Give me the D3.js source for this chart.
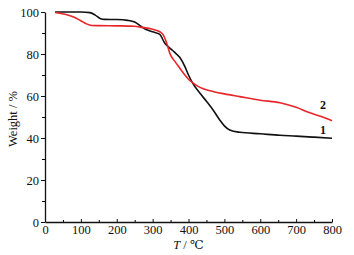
<!DOCTYPE html>
<html>
<head>
<meta charset="utf-8">
<script src="https://cdn.jsdelivr.net/npm/d3@7"></script>
<style>
  body { margin: 0; background: #fff; }
  svg text { font-family: "Liberation Serif", "DejaVu Serif", serif; }
</style>
</head>
<body>
<svg id="chart" width="354" height="255"></svg>
<script>
  // sample 1 (black) - TG curve
  var temp1 = [28, 100, 125, 140, 155, 165, 200, 230, 250, 265, 280, 300, 320, 334, 348, 360, 376, 390, 400, 412, 432, 450, 470, 487, 500, 515, 543, 600, 655, 700, 750, 800];
  var weight1 = [100, 100, 99.7, 98.5, 96.8, 96.5, 96.4, 96, 95.2, 93.5, 91.8, 90.6, 89.3, 85.1, 82.8, 81, 78.3, 74, 70, 66, 61.3, 57.5, 53, 48.6, 45.8, 43.8, 42.7, 42, 41.3, 40.9, 40.4, 39.9];

  // sample 2 (red)
  var temp2 = [28, 56, 80, 100, 115, 130, 150, 200, 250, 265, 300, 320, 330, 340, 348, 362, 376, 390, 400, 412, 432, 460, 500, 543, 600, 655, 700, 738, 770, 800];
  var weight2 = [99.8, 98.9, 97.6, 95.8, 94.4, 93.6, 93.5, 93.4, 93.2, 92.8, 91.8, 90.6, 89, 84.8, 80.3, 76.5, 73.2, 70, 68, 66.3, 64.1, 62.5, 61, 59.7, 58, 56.8, 54.6, 52, 50.2, 48.2];

  var xTicks = [0, 100, 200, 300, 400, 500, 600, 700, 800];
  var yTicks = [0, 20, 40, 60, 80, 100];
  var curveLabels = ['1', '2'];

  var svg = d3.select('#chart');
  var margin = {left: 45, right: 22, top: 12, bottom: 33};
  var width = 354 - margin.left - margin.right,
      height = 255 - margin.top - margin.bottom;

  var x = d3.scaleLinear().domain([0, 800]).range([0, width]);
  var y = d3.scaleLinear().domain([0, 100]).range([height, 0]);

  var g = svg.append('g')
    .attr('transform', 'translate(' + margin.left + ',' + margin.top + ')');

  // minor ticks first
  g.append('g')
    .attr('transform', 'translate(0,' + height + ')')
    .call(d3.axisBottom(x).tickValues(d3.range(50, 800, 100)).tickSize(-2).tickFormat(''))
    .call(function (s) { s.select('.domain').remove(); });
  g.append('g')
    .call(d3.axisLeft(y).tickValues(d3.range(10, 100, 20)).tickSize(3).tickFormat(''))
    .call(function (s) { s.select('.domain').remove(); });

  var xAxis = g.append('g')
    .attr('transform', 'translate(0,' + height + ')')
    .call(d3.axisBottom(x).tickValues(xTicks).tickSize(-3).tickPadding(4).tickSizeOuter(0));
  xAxis.selectAll('text').attr('dy', '0.71em').attr('y', 3);

  var yAxis = g.append('g')
    .call(d3.axisLeft(y).tickValues(yTicks).tickSize(4).tickPadding(2).tickSizeOuter(0));

  [xAxis, yAxis].forEach(function (a) {
    a.selectAll('text').style('font-size', '12.5px').attr('fill', '#111');
    a.select('.domain').attr('stroke', '#111').attr('stroke-width', 1.3);
    a.selectAll('.tick line').attr('stroke', '#111');
  });

  var line = d3.line()
    .x(function (d) { return x(d[0]); })
    .y(function (d) { return y(d[1]); })
    .curve(d3.curveMonotoneX);

  g.append('path')
    .datum(d3.zip(temp1, weight1))
    .attr('fill', 'none')
    .attr('stroke', '#111')
    .attr('stroke-width', 1.6)
    .attr('d', line);

  g.append('path')
    .datum(d3.zip(temp2, weight2))
    .attr('fill', 'none')
    .attr('stroke', '#e8262a')
    .attr('stroke-width', 1.6)
    .attr('d', line);

  // curve numbers
  g.selectAll('text.curve-label')
    .data(curveLabels)
    .enter()
    .append('text')
      .attr('class', 'curve-label')
      .attr('x', x(775))
      .attr('y', function (d, i) { return i === 0 ? y(41.8) : y(53.8); })
      .attr('text-anchor', 'middle')
      .style('font-size', '12px')
      .style('font-weight', 'bold')
      .attr('fill', '#111')
      .text(function (d) { return d; });

  // axis titles
  var xt = svg.append('text')
    .attr('x', margin.left + width / 2)
    .attr('y', 249)
    .attr('text-anchor', 'middle')
    .style('font-size', '12.5px')
    .attr('fill', '#111');
  xt.append('tspan').style('font-style', 'italic').text('T');
  xt.append('tspan').text(' / ℃');

  svg.append('text')
    .attr('transform', 'translate(17,' + (margin.top + height / 2 + 2) + ') rotate(-90)')
    .attr('text-anchor', 'middle')
    .style('font-size', '12.5px')
    .attr('fill', '#111')
    .text('Weight / %');
</script>
</body>
</html>
